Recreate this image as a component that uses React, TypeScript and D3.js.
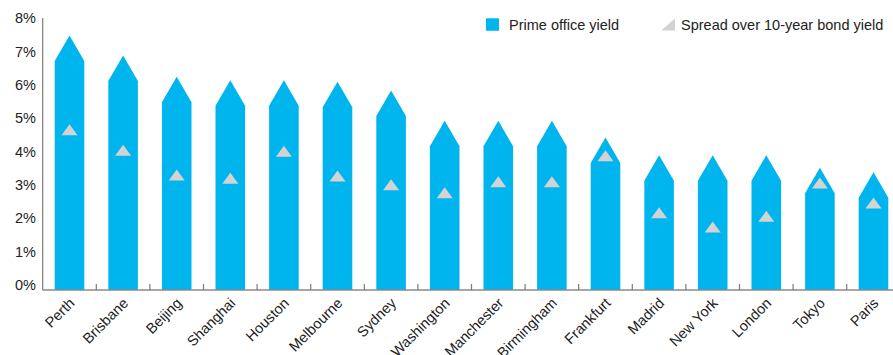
import React from "react";
import * as d3 from "d3";

const cities = ["Perth","Brisbane","Beijing","Shanghai","Houston","Melbourne","Sydney","Washington","Manchester","Birmingham","Frankfurt","Madrid","New York","London","Tokyo","Paris"];
const primeYield = [6.72,6.12,5.48,5.38,5.38,5.33,5.07,4.16,4.16,4.16,3.66,3.13,3.13,3.13,2.75,2.62];
const spread = [4.66,4.04,3.30,3.20,4.01,3.27,3.01,2.77,3.10,3.10,3.88,2.17,1.74,2.06,3.06,2.46];
const yTicks = [0,1,2,3,4,5,6,7,8];
const legendLabels = ["Prime office yield","Spread over 10-year bond yield"];

const W = 893, H = 355;
const left = 42.7, baseY = 290, topY = 18;
const BLUE = "#00b5ee";
const GRAY = "#d3d3d3";
const FONT = "'Liberation Sans', Arial, Helvetica, sans-serif";

export default function App() {
  const x = d3.scaleBand<string>().domain(cities).range([left, left + 16 * 53.6]).paddingInner(0.448).paddingOuter(0.224);
  const y = d3.scaleLinear().domain([0, 8]).range([285, 18.3]);
  const bw = x.bandwidth();
  const roof = 25.5;
  const triW = 16, triH = 11;
  return (
    <svg width={W} height={H} style={{ position: "absolute", left: 0, top: 0, background: "#fff" }} fontFamily={FONT}>
      {/* bars */}
      {cities.map((c, i) => {
        const x0 = x(c)!;
        const x1 = x0 + bw;
        const yt = y(primeYield[i]);
        const p = d3.path();
        p.moveTo(x0, baseY);
        p.lineTo(x0, yt);
        p.lineTo((x0 + x1) / 2, yt - roof);
        p.lineTo(x1, yt);
        p.lineTo(x1, baseY);
        p.closePath();
        return <path key={c} d={p.toString()} fill={BLUE} />;
      })}
      {/* spread markers */}
      {cities.map((c, i) => {
        const cx = x(c)! + bw / 2;
        const cy = y(spread[i]);
        const p = d3.path();
        p.moveTo(cx - triW / 2, cy + triH / 2);
        p.lineTo(cx, cy - triH / 2);
        p.lineTo(cx + triW / 2, cy + triH / 2);
        p.closePath();
        return <path key={"t" + c} d={p.toString()} fill={GRAY} />;
      })}
      {/* axes */}
      <line x1={left} x2={left} y1={topY} y2={baseY} stroke="#7a7a7a" strokeWidth={1.2} />
      <line x1={left} x2={W} y1={baseY} y2={baseY} stroke="#8a8a8a" strokeWidth={1.5} />
      {cities.slice(1).map((c) => {
        const bx = x(c)! - (x.step() - bw) / 2;
        return <line key={"k" + c} x1={bx} x2={bx} y1={baseY} y2={baseY - 6} stroke="#7a7a7a" strokeWidth={1.2} />;
      })}
      {yTicks.map((t) => (
        <text key={"y" + t} x={36} y={y(t)} textAnchor="end" dominantBaseline="central" fontSize={14.5} fill="#222">{t + "%"}</text>
      ))}
      {cities.map((c) => {
        const cx = x(c)! + bw / 2;
        return (
          <text key={"l" + c} transform={`translate(${cx + 6},${304}) rotate(-45)`} textAnchor="end" fontSize={14.5} fill="#222">{c}</text>
        );
      })}
      {/* legend */}
      <rect x={486} y={18.3} width={13} height={12.5} fill={BLUE} />
      <text x={509} y={25} dominantBaseline="central" fontSize={14.5} fill="#222">{legendLabels[0]}</text>
      <path d="M661,30.5L675,30.5L675,18.5Z" fill={GRAY} />
      <text x={681} y={25} dominantBaseline="central" fontSize={14.5} fill="#222">{legendLabels[1]}</text>
    </svg>
  );
}
